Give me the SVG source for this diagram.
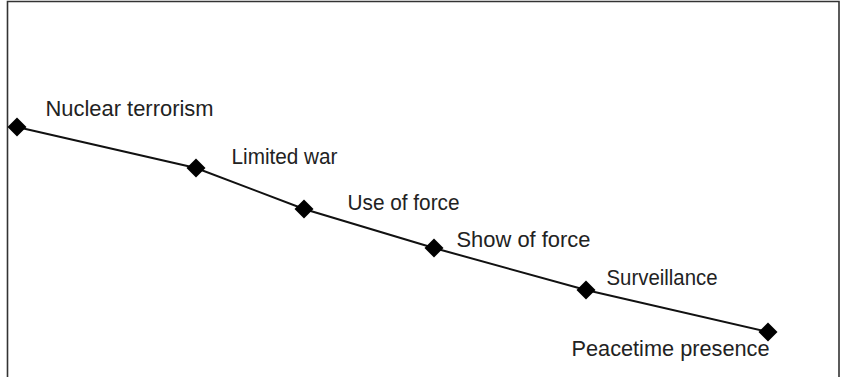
<svg xmlns="http://www.w3.org/2000/svg" width="841" height="377" viewBox="0 0 841 377">
<style>
.lbl{font-family:"Liberation Sans",Arial,sans-serif;font-size:22px;fill:#222}
.mk{fill:#000}
</style>
<rect x="0" y="0" width="841" height="377" fill="#fff"/>
<path d="M7.5,377 V1.5 H839 V377" fill="none" stroke="#333" stroke-width="1.6"/>
<g id="connectors">
<polyline points="17,127 196,168 304,209 434,248 586,290 768,332" fill="none" stroke="#111" stroke-width="2"/>
</g>
<g id="n1"><path class="mk" d="M17,117.5 L26.5,127 L17,136.5 L7.5,127 Z"/><text class="lbl" x="45.5" y="115.5" textLength="168" lengthAdjust="spacingAndGlyphs">Nuclear terrorism</text></g>
<g id="n2"><path class="mk" d="M196,158.5 L205.5,168 L196,177.5 L186.5,168 Z"/><text class="lbl" x="231.5" y="164" textLength="106" lengthAdjust="spacingAndGlyphs">Limited war</text></g>
<g id="n3"><path class="mk" d="M304,199.5 L313.5,209 L304,218.5 L294.5,209 Z"/><text class="lbl" x="347.5" y="210" textLength="112" lengthAdjust="spacingAndGlyphs">Use of force</text></g>
<g id="n4"><path class="mk" d="M434,238.5 L443.5,248 L434,257.5 L424.5,248 Z"/><text class="lbl" x="456.5" y="247" textLength="134" lengthAdjust="spacingAndGlyphs">Show of force</text></g>
<g id="n5"><path class="mk" d="M586,280.5 L595.5,290 L586,299.5 L576.5,290 Z"/><text class="lbl" x="606.5" y="285" textLength="111" lengthAdjust="spacingAndGlyphs">Surveillance</text></g>
<g id="n6"><path class="mk" d="M768,322.5 L777.5,332 L768,341.5 L758.5,332 Z"/><text class="lbl" x="571.5" y="356" textLength="198" lengthAdjust="spacingAndGlyphs">Peacetime presence</text></g>
</svg>
